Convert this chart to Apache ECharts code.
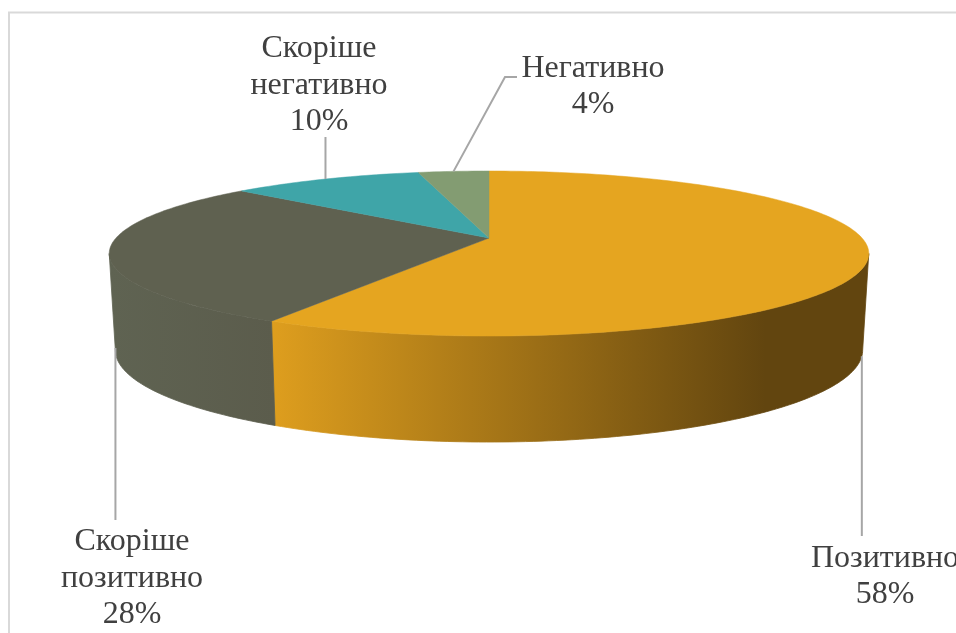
<!DOCTYPE html>
<html><head><meta charset="utf-8">
<style>html,body{margin:0;padding:0;background:#fff;overflow:hidden}#c{width:956px;height:633px}</style>
<script src="https://cdn.jsdelivr.net/npm/echarts@6/dist/echarts.min.js"></script>
</head><body><div id="c"></div>
<script>
// Data
const categories = ['Позитивно', 'Скоріше позитивно', 'Скоріше негативно', 'Негативно'];
const values = [58.1, 28.49, 9.81, 3.6];
const labelLines = [['Позитивно'], ['Скоріше', 'позитивно'], ['Скоріше', 'негативно'], ['Негативно']];
const topColors = ['#E5A520', '#5F6150', '#3FA5A8', '#839C72'];

// Projection of the tilted disc
const topDisc = {cx: 489, cy: 238, rx: 373, ry: 79.6, k: 0.188};
const baseDisc = {cx: 489, cy: 332.8, rx: 367, ry: 88.7, k: 0.188};
const sideFills = [
  {type:'linear', x:272, y:0, x2:765, y2:0, global:true, colorStops:[{offset:0,color:'#DE9E1E'},{offset:1,color:'#62450F'}]},
  {type:'linear', x:110, y:0, x2:275, y2:0, global:true, colorStops:[{offset:0,color:'#5F6352'},{offset:1,color:'#5B5C4C'}]},
  '#3FA5A8', '#839C72'
];
// Leader and label layout: rim used, leader end, label centre, first line centre
const layout = [
  {rim:'base', path:[[null,536]], x:885, y:558.5},
  {rim:'base', path:[[null,520]], x:132, y:542},
  {rim:'top',  path:[[null,137]], x:319, y:49},
  {rim:'top',  path:[[505,77],[517,77]], x:593, y:68.5}
];
const LINE_H = 36.5;
const total = values.reduce((a, b) => a + b, 0);
const pct = v => Math.round(v / total * 100) + '%';
// Silhouette: rim angles where the front wall begins and ends
const silhouette = Math.acos(-topDisc.k) * 180 / Math.PI;

function project(d, deg) {
  const a = deg * Math.PI / 180, u = Math.sin(a), v = Math.cos(a), w = 1 + d.k * v;
  return [d.cx + d.rx * u / w, d.cy - d.ry * v / w];
}
function arc(d, from, to) {
  const pts = [], n = Math.max(2, Math.ceil(Math.abs(to - from)));
  for (let i = 0; i <= n; i++) pts.push(project(d, from + (to - from) * i / n));
  return pts;
}
function sliceAngles(i) {
  let s = 0;
  for (let j = 0; j < i; j++) s += values[j];
  return [s / total * 360, (s + values[i]) / total * 360];
}
const data = categories.map((n, i) => ({name: n, value: [values[i]]}));

const option = {
  animation: false,
  backgroundColor: '#ffffff',
  graphic: [{type:'polyline', silent:true, shape:{points:[[9,640],[9,12.5],[960,12.5]]},
             style:{stroke:'#D9D9D9', lineWidth:2, fill:null}}],
  series: [
    { // side walls: only the front-facing part of each slice
      type:'custom', coordinateSystem:'none', data, z:1, silent:true,
      renderItem(params) {
        const [a, b] = sliceAngles(params.dataIndex);
        const from = Math.max(a, silhouette), to = Math.min(b, 360 - silhouette);
        if (to <= from) return {type:'group', children:[]};
        const pts = arc(topDisc, from, to).concat(arc(baseDisc, to, from));
        const fill = sideFills[params.dataIndex];
        return {type:'polygon', shape:{points:pts}, style:{fill, stroke:fill, lineWidth:0.8}};
      }
    },
    { // top faces
      type:'custom', coordinateSystem:'none', data, z:2, silent:true,
      renderItem(params) {
        const [a, b] = sliceAngles(params.dataIndex);
        const pts = [[topDisc.cx, topDisc.cy]].concat(arc(topDisc, a, b));
        return {type:'polygon', shape:{points:pts}, style:{fill:topColors[params.dataIndex], stroke:topColors[params.dataIndex], lineWidth:0.5}};
      }
    },
    { // leaders and labels
      type:'custom', coordinateSystem:'none', data, z:3, silent:true,
      renderItem(params, api) {
        const i = params.dataIndex, L = layout[i];
        const [a, b] = sliceAngles(i);
        const start = project(L.rim === 'top' ? topDisc : baseDisc, (a + b) / 2);
        const pts = [start].concat(L.path.map(p => [p[0] === null ? start[0] : p[0], p[1]]));
        const lines = labelLines[i].concat([pct(api.value(0))]);
        const children = [{type:'polyline', shape:{points:pts}, style:{stroke:'#A6A6A6', lineWidth:2, fill:null}}];
        lines.forEach((t, n) => children.push({type:'text', style:{
          text:t, x:L.x, y:L.y + n * LINE_H, align:'center', verticalAlign:'middle',
          fill:'#404040', font:'32px "Liberation Serif"'}}));
        return {type:'group', children};
      }
    }
  ]
};
echarts.init(document.getElementById('c'), null, {renderer:'canvas'}).setOption(option);
</script></body></html>
